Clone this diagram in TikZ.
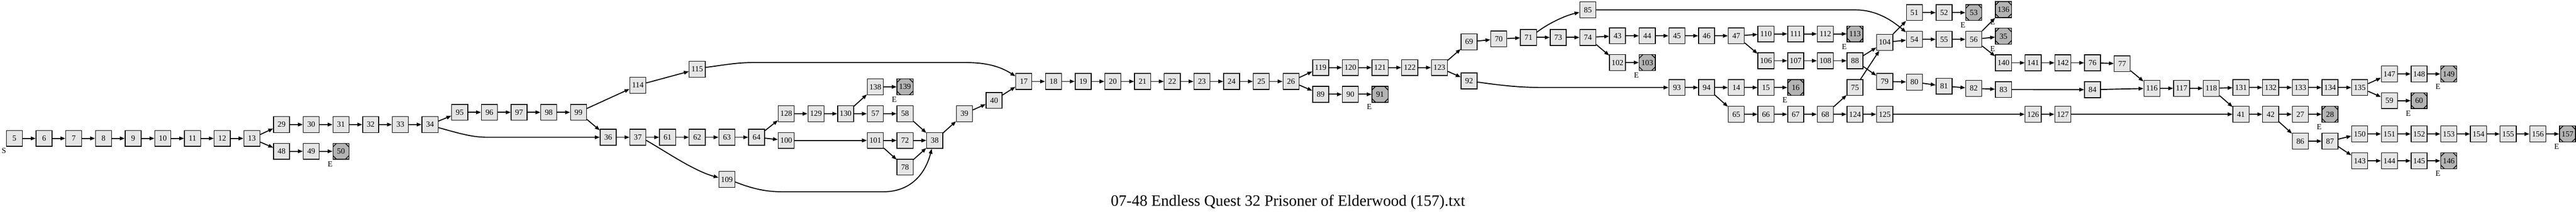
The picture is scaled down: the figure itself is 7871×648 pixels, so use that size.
\documentclass[tikz,border=0pt]{standalone}
\usepackage{fontspec}
\setmainfont{Liberation Serif}
\usetikzlibrary{arrows.meta}
\definecolor{nodegray}{HTML}{E5E5E5}
\definecolor{endgray}{HTML}{B3B3B3}
\tikzset{
  nd/.style={draw=black, line width=2.2pt, fill=nodegray, minimum width=49pt, minimum height=48.5pt,
    inner sep=0pt, font=\fontsize{24}{24}\selectfont},
  endnd/.style={nd, fill=endgray, path picture={
    \draw[line width=2.2pt] ([xshift=11pt]path picture bounding box.north west) -- ([yshift=-11pt]path picture bounding box.north west);
    \draw[line width=2.2pt] ([xshift=-11pt]path picture bounding box.north east) -- ([yshift=-11pt]path picture bounding box.north east);
    \draw[line width=2.2pt] ([xshift=11pt]path picture bounding box.south west) -- ([yshift=11pt]path picture bounding box.south west);
    \draw[line width=2.2pt] ([xshift=-11pt]path picture bounding box.south east) -- ([yshift=11pt]path picture bounding box.south east);
  }},
  conn/.style={line width=3pt, -{Triangle[length=15pt,width=11pt]}},
  lbl/.style={font=\fontsize{24}{24}\selectfont, inner sep=0pt},
}
\begin{document}
\begin{tikzpicture}[x=1pt,y=-1pt]
\fill[white] (0,0) rectangle (7871,648);
\useasboundingbox (0,0) rectangle (7871,648);
% normal nodes: label/rank/y
\foreach \n/\r/\y in {5/0/421.5, 6/1/421.5, 7/2/421.5, 8/3/421.5, 9/4/421.5, 10/5/421.5, 11/6/421.5, 12/7/421.5, 13/8/421.5,
 29/9/379.3, 30/10/379.3, 31/11/379.3, 32/12/379.3, 33/13/379.3, 34/14/379.3,
 48/9/460.7, 49/10/460.7,
 95/15/342, 96/16/342, 97/17/342, 98/18/342, 99/19/342,
 36/20/418, 114/21/259.5, 37/21/418, 115/23/210.7, 61/22/418, 62/23/418, 63/24/418, 64/25/418, 109/24/546.3,
 128/26/346.3, 129/27/346.3, 130/28/346.3, 100/26/427.7,
 138/29/264.5, 57/29/346.3, 58/30/346.3, 101/29/427.7, 72/30/427.7, 78/30/509,
 38/31/427.7, 39/32/346.3, 40/33/305.8,
 17/34/248, 18/35/248, 19/36/248, 20/37/248, 21/38/248, 22/39/248, 23/40/248, 24/41/248, 25/42/248, 26/43/248,
 119/44/205.8, 120/45/205.8, 121/46/205.8, 122/47/205.8, 123/48/205.8,
 89/44/287.2, 90/45/287.2,
 69/49/127.3, 70/50/118.6, 71/51/114, 92/49/246.3,
 85/53/30.2, 73/52/114, 74/53/114,
 43/54/109, 44/55/109, 45/56/109, 46/57/109, 47/58/109,
 102/54/190.5,
 110/59/103.3, 111/60/103.3, 112/61/103.3,
 106/59/185, 107/60/185, 108/61/185, 88/62/185,
 93/56/266.5, 94/57/266.5, 14/58/266.5, 15/59/266.5,
 65/58/348, 66/59/348, 67/60/348, 68/61/348,
 75/62/266.5, 124/62/348, 125/63/348,
 104/63/129, 79/63/248,
 51/64/38.4, 52/65/38.4,
 54/64/119.8, 55/65/119.8, 56/66/119.8,
 140/67/191.3,
 80/64/250, 81/65/262.4, 82/66/269, 83/67/272.7,
 141/68/191.3, 142/69/191.3, 76/70/191.3, 77/71/194.2,
 84/70/273, 126/68/348, 127/69/348,
 116/72/269, 117/73/269, 118/74/269,
 131/75/266.5, 132/76/266.5, 133/77/266.5, 134/78/266.5, 135/79/266.5,
 41/75/348, 42/76/348, 27/77/348,
 86/77/429.8, 87/78/429.8,
 147/80/225.2, 148/81/225.2, 59/80/306.6,
 150/79/407.9, 151/80/407.9, 152/81/407.9, 153/82/407.9, 154/83/407.9, 155/84/407.9, 156/85/407.9,
 143/79/489.7, 144/80/489.7, 145/81/489.7}{
  \pgfmathsetmacro\xx{44+90.71*\r}
  \node[nd] (n\n) at (\xx,\y) {\n};
}
% end nodes
\foreach \n/\r/\y in {50/11/460.7, 139/30/264.5, 91/46/287.2, 103/55/190.5, 113/62/103.3, 16/60/266.5,
 53/66/38.4, 136/67/29, 35/67/110.3, 28/78/348, 60/81/306.6, 149/82/225.2, 157/86/407.9, 146/82/489.7}{
  \pgfmathsetmacro\xx{44+90.71*\r}
  \node[endnd] (n\n) at (\xx,\y) {\n};
  \node[lbl, xshift=-33pt, yshift=-38.5pt] (e\n) at (n\n) {E};
}
\node[lbl, xshift=-32pt, yshift=-37pt] (s5) at (n5) {S};
% straight connectors
\foreach \a/\b in {5/6,6/7,7/8,8/9,9/10,10/11,11/12,12/13,13/29,13/48,29/30,30/31,31/32,32/33,33/34,48/49,49/50,
 34/95,95/96,96/97,97/98,98/99,99/114,99/36,36/37,114/115,37/61,61/62,62/63,63/64,64/128,64/100,128/129,129/130,
 130/138,130/57,138/139,57/58,58/38,100/101,101/72,101/78,72/38,78/38,38/39,39/40,40/17,17/18,18/19,19/20,20/21,
 21/22,22/23,23/24,24/25,25/26,26/119,26/89,119/120,120/121,121/122,122/123,89/90,90/91,123/69,123/92,69/70,70/71,
 71/73,73/74,74/43,74/102,43/44,44/45,45/46,46/47,47/110,47/106,102/103,93/94,94/14,94/65,14/15,15/16,65/66,66/67,
 67/68,110/111,111/112,112/113,106/107,107/108,108/88,68/75,68/124,88/104,88/79,75/104,124/125,104/51,104/54,
 51/52,52/53,54/55,55/56,56/136,56/35,56/140,79/80,80/81,81/82,82/83,83/84,125/126,140/141,141/142,142/76,76/77,
 77/116,84/116,116/117,117/118,118/131,118/41,126/127,127/41,131/132,132/133,133/134,134/135,41/42,42/27,42/86,
 27/28,86/87,135/147,135/59,147/148,148/149,59/60,87/150,87/143,150/151,151/152,152/153,153/154,154/155,155/156,
 156/157,143/144,144/145,145/146}{
  \draw[conn] (n\a) -- (n\b);
}
% curved connectors
\draw[conn] (n34.-20) .. controls (1400,405) and (1440,418) .. (1490,418) -- (n36.west);
\draw[conn] (n37.-20) .. controls (2040,465) and (2120,520) .. (n109.168);
\draw[conn] (n109.-17) .. controls (2300,575) and (2340,584) .. (2392,584) -- (2698,584) .. controls (2790,584) and (2830,520) .. (n38.250);
\draw[conn] (n115.12) .. controls (2220,197) and (2250,190.5) .. (2302,190.5) -- (2952,190.5) .. controls (3020,190.5) and (3060,205) .. (n17.148);
\draw[conn] (n71.32) .. controls (4730,72) and (4780,48) .. (n85.196);
\draw[conn] (n92.-8) .. controls (4600,262) and (4650,266.5) .. (4720,266.5) -- (n93.west);
\draw[conn] (n85.east) -- (5670,30.2) .. controls (5740,30.2) and (5790,70) .. (n54.140);
% caption
\node[font=\fontsize{48}{48}\selectfont, anchor=base, inner sep=0pt] (title) at (3935.5,628) {07-48 Endless Quest 32 Prisoner of Elderwood (157).txt};
\end{tikzpicture}
\end{document}
